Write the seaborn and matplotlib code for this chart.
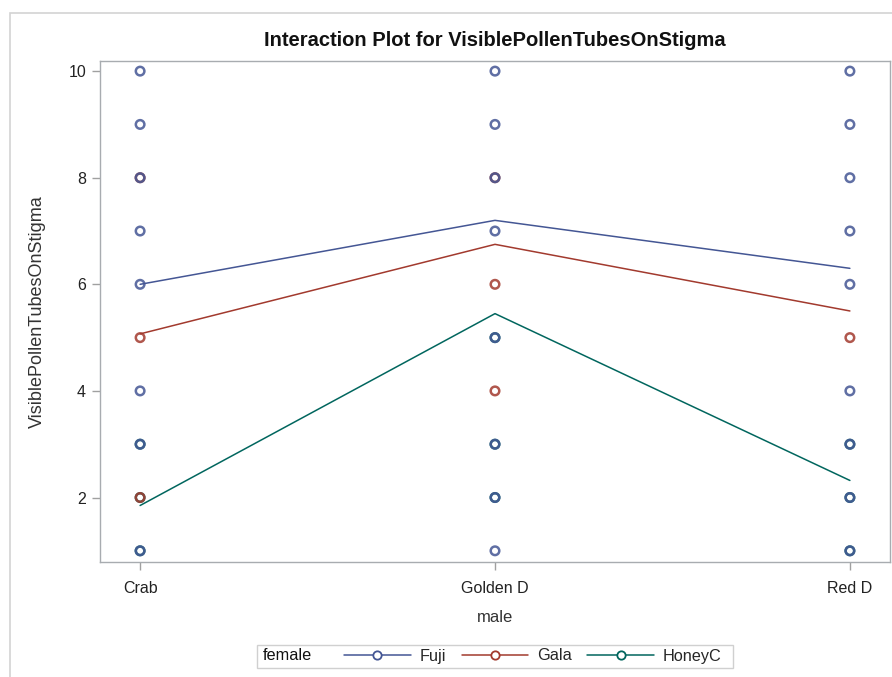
import matplotlib
matplotlib.use("Agg")
import matplotlib.pyplot as plt
from matplotlib.lines import Line2D
from matplotlib.patches import Rectangle
import seaborn as sns
import pandas as pd

# ---- data ----
males = ["Crab", "Golden D", "Red D"]
females = ["Fuji", "Gala", "HoneyC"]

# observed (distinct) values visible at each male level
fuji_crab = [1, 3, 4, 6, 7, 8, 9, 10]
fuji_golden = [1, 2, 3, 5, 7, 8, 9, 10]
fuji_red = [1, 2, 3, 4, 6, 7, 8, 9, 10]
gala_crab = [2, 5, 8]
gala_golden = [4, 6, 8]
gala_red = [5]
honey_crab = [1, 2, 3]
honey_golden = [2, 3, 5]
honey_red = [1, 2, 3]

# cell means (interaction lines)
fuji_means = [6.0, 7.2, 6.3]
gala_means = [5.07, 6.75, 5.5]
honey_means = [1.85, 5.45, 2.32]

yticks = [2, 4, 6, 8, 10]

colors = {"Fuji": "#445694", "Gala": "#A23A2E", "HoneyC": "#01665E"}

# ---- build tables ----
obs = {
    "HoneyC": [honey_crab, honey_golden, honey_red],
    "Gala": [gala_crab, gala_golden, gala_red],
    "Fuji": [fuji_crab, fuji_golden, fuji_red],
}
rows = []
for f in ["HoneyC", "Gala", "Fuji"]:  # draw order: Fuji on top
    for i, m in enumerate(males):
        for v in obs[f][i]:
            rows.append({"female": f, "male": m, "x": i, "y": v})
pts = pd.DataFrame(rows)

means = {"Fuji": fuji_means, "Gala": gala_means, "HoneyC": honey_means}
mrows = []
for f in females:
    for i, m in enumerate(males):
        mrows.append({"female": f, "male": m, "x": i, "y": means[f][i]})
mdf = pd.DataFrame(mrows)

# ---- plot ----
sns.set_theme(style="white")
plt.rcParams["font.family"] = ["Liberation Sans", "DejaVu Sans"]

W, H = 892, 677
fig = plt.figure(figsize=(W / 100, H / 100), dpi=100)
ax = fig.add_axes([100 / W, 1 - 562 / H, 790 / W, 501 / H])

# outer light border
fig.patches.append(Rectangle((10 / W, -0.05), 1.0, (H - 13) / H + 0.05,
                             transform=fig.transFigure, fill=False,
                             edgecolor="#D3D3D3", linewidth=1.2))

for f in ["HoneyC", "Gala", "Fuji"]:
    sub = pts[pts.female == f]
    sns.scatterplot(data=sub, x="x", y="y", ax=ax, marker="o", s=38,
                    facecolor="none", edgecolor=colors[f], linewidth=1.8,
                    alpha=0.85, legend=False, zorder=3)

sns.lineplot(data=mdf, x="x", y="y", hue="female", hue_order=females,
             palette=colors, ax=ax, linewidth=1.1, legend=False, zorder=2,
             errorbar=None)

ax.set_xlim(-0.113, 2.113)
ax.set_ylim(0.79, 10.19)
ax.set_xticks(range(len(males)))
ax.set_xticklabels(males)
ax.set_yticks(yticks)
ax.set_yticklabels([str(t) for t in yticks])
ax.set_xlabel("")
ax.set_ylabel("VisiblePollenTubesOnStigma", fontsize=13, color="#333333",
              va="center")
ax.yaxis.set_label_coords((37 - 100) / 790, 0.5)
ax.tick_params(axis="both", which="both", direction="out", length=6, width=1,
               color="#A0A0A0", labelsize=11.5, labelcolor="#222222", pad=4)
ax.tick_params(axis="y", left=True)
ax.tick_params(axis="x", bottom=True, pad=8)
for sp in ax.spines.values():
    sp.set_color("#A8ACB0")
    sp.set_linewidth(1.0)

fig.text(495 / W, 1 - 40 / H, "Interaction Plot for VisiblePollenTubesOnStigma",
         ha="center", va="center", fontsize=14.5, fontweight="bold", color="#111111")
fig.text(495 / W, 1 - 617 / H, "male", ha="center", va="center",
         fontsize=12, color="#333333")

# legend: frame + "female" label, then entries
fig.patches.append(Rectangle((257 / W, 1 - 668 / H), (733 - 257) / W, 23 / H,
                             transform=fig.transFigure, fill=False,
                             edgecolor="#D0D0D0", linewidth=1.0))
fig.text(263 / W, 1 - 656 / H, "female", ha="left", va="center",
         fontsize=11.7, color="#111111")
handles = []
for f in females:
    handles.append(Line2D([], [], color=colors[f], linewidth=1.1, marker="o",
                          markersize=6, markerfacecolor="white",
                          markeredgecolor=colors[f], markeredgewidth=1.3))
leg = fig.legend(handles, females, loc="center left", ncol=3,
                 bbox_to_anchor=(344 / W, 1 - 656 / H), frameon=False,
                 fontsize=11.7, handlelength=4.1, handletextpad=0.55,
                 columnspacing=0.95, borderpad=0, borderaxespad=0,
                 handleheight=0.8)

fig.savefig("out.png", dpi=100)
